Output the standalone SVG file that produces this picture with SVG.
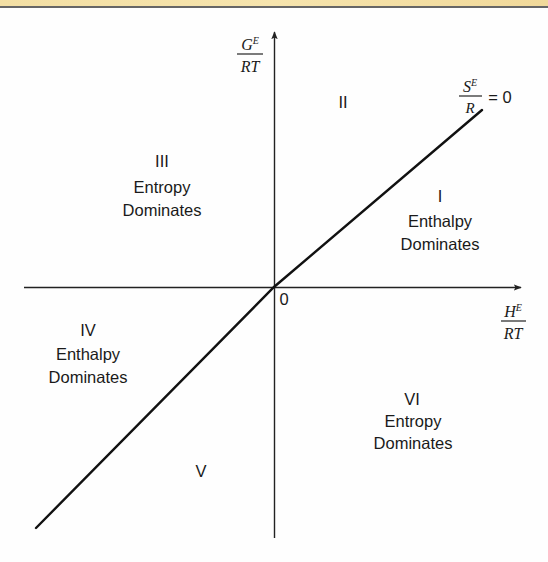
<svg xmlns="http://www.w3.org/2000/svg" width="548" height="562" viewBox="0 0 548 562">
<style>
.lbl{font-family:"Liberation Sans",Arial,sans-serif;font-size:16.5px;fill:#1a1a1a;text-anchor:middle}
.math{font-family:"Liberation Serif","Times New Roman",serif;font-style:italic;fill:#1a1a1a;text-anchor:middle}
.ax{stroke:#222;stroke-width:1.4;fill:none}
</style>
<defs>
<linearGradient id="band" x1="0" x2="1" y1="0" y2="0">
<stop offset="0" stop-color="#f3dfa4"/><stop offset="0.5" stop-color="#f6e4ad"/><stop offset="1" stop-color="#f1d99a"/>
</linearGradient>
<marker id="arr" viewBox="0 0 10 10" refX="9" refY="5" markerWidth="8" markerHeight="8" markerUnits="userSpaceOnUse" orient="auto">
<path d="M0,1 L10,5 L0,9 L2,5 Z" fill="#222"/>
</marker>
</defs>
<rect width="548" height="562" fill="#fefefe"/>
<rect width="548" height="6" fill="url(#band)"/>
<line x1="0" y1="7" x2="548" y2="7" stroke="#333" stroke-width="1.5"/>
<g id="connectors">
<line class="ax" x1="24" y1="287.5" x2="521" y2="287.5" marker-end="url(#arr)"/>
<line class="ax" x1="274.5" y1="538" x2="274.5" y2="32" marker-end="url(#arr)"/>
<polyline points="36,528 274,287 482,110" fill="none" stroke="#111" stroke-width="2.4" stroke-linecap="round"/>
</g>
<g id="yaxis-label">
<text class="math" x="250" y="50" font-size="16">G<tspan font-size="10" dy="-6">E</tspan></text>
<line x1="237" y1="54" x2="263" y2="54" stroke="#222" stroke-width="1.2"/>
<text class="math" x="250" y="72" font-size="16">RT</text>
</g>
<g id="xaxis-label">
<text class="math" x="513" y="317" font-size="16">H<tspan font-size="10" dy="-6">E</tspan></text>
<line x1="501" y1="321" x2="526" y2="321" stroke="#222" stroke-width="1.2"/>
<text class="math" x="513" y="339" font-size="16">RT</text>
</g>
<g id="line-label">
<text class="math" x="470" y="92" font-size="16">S<tspan font-size="10" dy="-6">E</tspan></text>
<line x1="459" y1="96" x2="482" y2="96" stroke="#222" stroke-width="1.2"/>
<text class="math" x="470" y="113" font-size="15">R</text>
<text class="lbl" x="500" y="103">= 0</text>
</g>
<g id="origin"><text class="lbl" x="284" y="305">0</text></g>
<g id="region-I">
<text class="lbl" x="440" y="202">I</text>
<text class="lbl" x="440" y="227">Enthalpy</text>
<text class="lbl" x="440" y="250">Dominates</text>
</g>
<g id="region-II"><text class="lbl" x="343" y="108">II</text></g>
<g id="region-III">
<text class="lbl" x="162" y="167">III</text>
<text class="lbl" x="162" y="193">Entropy</text>
<text class="lbl" x="162" y="216">Dominates</text>
</g>
<g id="region-IV">
<text class="lbl" x="88" y="336">IV</text>
<text class="lbl" x="88" y="360">Enthalpy</text>
<text class="lbl" x="88" y="383">Dominates</text>
</g>
<g id="region-V"><text class="lbl" x="201" y="477">V</text></g>
<g id="region-VI">
<text class="lbl" x="412" y="405">VI</text>
<text class="lbl" x="413" y="427">Entropy</text>
<text class="lbl" x="413" y="449">Dominates</text>
</g>
</svg>
